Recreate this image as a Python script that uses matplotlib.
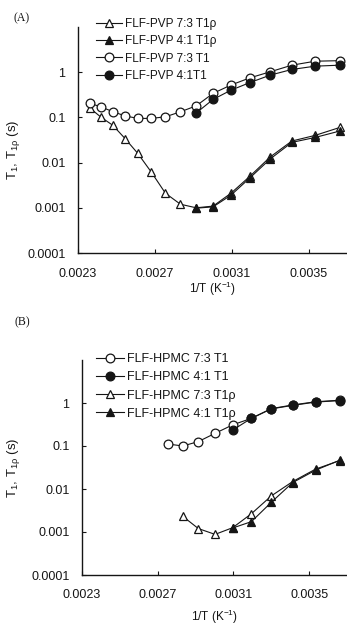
import matplotlib
matplotlib.use("Agg")
import matplotlib.pyplot as plt
import numpy as np

plt.rcParams['font.family'] = ['Liberation Sans', 'DejaVu Sans']
plt.rcParams['mathtext.default'] = 'regular'

# ---- Panel A: FLF-PVP ----
x_pvp = [0.002364, 0.002421, 0.002481, 0.002545, 0.002611, 0.002681, 0.002755, 0.002833,
         0.002915, 0.003003, 0.003096, 0.003195, 0.003300, 0.003413, 0.003534, 0.003663]
pvp73_t1 = [0.204, 0.17, 0.134, 0.108, 0.095, 0.095, 0.103, 0.133,
            0.18, 0.34, 0.52, 0.75, 1.02, 1.43, 1.75, 1.8]
pvp73_t1rho = [0.158, 0.10, 0.067, 0.034, 0.016, 0.0062, 0.0021, 0.0012,
               0.0010, 0.00109, 0.0021, 0.0050, 0.0133, 0.030, 0.040, 0.060]
x_pvp41 = x_pvp[8:]
pvp41_t1 = [0.125, 0.25, 0.40, 0.59, 0.86, 1.15, 1.36, 1.43]
pvp41_t1rho = [0.00098, 0.00105, 0.0019, 0.0046, 0.012, 0.028, 0.036, 0.050]

# ---- Panel B: FLF-HPMC ----
x_hpmc_t1_73 = [0.002755, 0.002833, 0.002915, 0.003003, 0.003096, 0.003195, 0.003300,
                0.003413, 0.003534, 0.003663]
hpmc73_t1 = [0.111, 0.10, 0.127, 0.197, 0.31, 0.44, 0.74, 0.90, 1.07, 1.16]
x_hpmc_41 = [0.003096, 0.003195, 0.003300, 0.003413, 0.003534, 0.003663]
hpmc41_t1 = [0.235, 0.44, 0.73, 0.88, 1.05, 1.14]
x_hpmc_rho_73 = [0.002833, 0.002915, 0.003003, 0.003096, 0.003195, 0.003300,
                 0.003413, 0.003534, 0.003663]
hpmc73_t1rho = [0.0023, 0.0012, 0.00088, 0.00126, 0.00266, 0.0069, 0.0149, 0.029, 0.046]
hpmc41_t1rho = [0.00124, 0.00174, 0.0049, 0.0141, 0.0274, 0.047]

xticks = [0.0023, 0.0027, 0.0031, 0.0035]
xticklabels = ['0.0023', '0.0027', '0.0031', '0.0035']
yticks = [0.0001, 0.001, 0.01, 0.1, 1]
yticklabels = ['0.0001', '0.001', '0.01', '0.1', '1']

W, H = 347, 626
fig = plt.figure(figsize=(W / 100, H / 100), dpi=100)

C = '#151515'
ms = 6.3
lw = 0.8
mew = 0.9


def px_axes(l, t, r, b):
    return fig.add_axes([l / W, 1 - b / H, (r - l) / W, (b - t) / H])


def style(ax, xpad, ylab_xy):
    ax.set_yscale('log')
    ax.set_xlim(0.0023, 0.0037)
    ax.set_ylim(0.0001, 10)
    ax.set_xticks(xticks)
    ax.set_xticklabels(xticklabels)
    ax.set_yticks(yticks)
    ax.set_yticklabels(yticklabels)
    ax.yaxis.set_minor_locator(matplotlib.ticker.NullLocator())
    for s in ['top', 'right']:
        ax.spines[s].set_visible(False)
    for s in ['left', 'bottom']:
        ax.spines[s].set_linewidth(1.0)
        ax.spines[s].set_color(C)
    ax.tick_params(axis='y', direction='in', length=3, width=0.8, pad=9, labelsize=9, colors=C)
    ax.tick_params(axis='x', direction='in', length=3, width=0.8, pad=xpad, labelsize=9, colors=C)
    ax.set_ylabel('T$_1$, T$_{1\\rho}$ (s)', fontsize=9.5, color=C)
    ax.yaxis.set_label_coords(*ylab_xy)
    ax.patch.set_alpha(0)


def series(ax, x, y, marker, filled, label, z):
    ax.plot(x, y, color=C, lw=lw, marker=marker, ms=ms, mew=mew,
            mfc=C if filled else 'white', mec=C, label=label, zorder=z, clip_on=False)


# Panel A
axA = px_axes(78, 27, 347, 253)
style(axA, 11, (-0.208, 0.456))
series(axA, x_pvp, pvp73_t1rho, '^', False, 'FLF-PVP 7:3 T1ρ', 3)
series(axA, x_pvp41, pvp41_t1rho, '^', True, 'FLF-PVP 4:1 T1ρ', 4)
series(axA, x_pvp, pvp73_t1, 'o', False, 'FLF-PVP 7:3 T1', 3)
series(axA, x_pvp41, pvp41_t1, 'o', True, 'FLF-PVP 4:1T1', 4)
axA.set_xlabel('1/T (K$^{-1}$)', fontsize=8.5, labelpad=0, color=C)
legA = axA.legend(loc='upper left', bbox_to_anchor=(96 / W, 1 - 18 / H), bbox_transform=fig.transFigure,
                  frameon=False, fontsize=8.5, handlelength=2.2, handletextpad=0.25,
                  labelspacing=0.45, borderpad=0, borderaxespad=0)
for t in legA.get_texts():
    t.set_color(C)
fig.text(22 / W, 1 - 18 / H, '(A)', ha='center', va='center', fontsize=8.5,
         family=['Liberation Serif', 'DejaVu Serif'], color=C)

# Panel B
axB = px_axes(82, 360, 347, 575)
style(axB, 10, (-0.226, 0.498))
series(axB, x_hpmc_t1_73, hpmc73_t1, 'o', False, 'FLF-HPMC 7:3 T1', 3)
series(axB, x_hpmc_41, hpmc41_t1, 'o', True, 'FLF-HPMC 4:1 T1', 4)
series(axB, x_hpmc_rho_73, hpmc73_t1rho, '^', False, 'FLF-HPMC 7:3 T1ρ', 3)
series(axB, x_hpmc_41, hpmc41_t1rho, '^', True, 'FLF-HPMC 4:1 T1ρ', 4)
axB.set_xlabel('1/T (K$^{-1}$)', fontsize=8.5, labelpad=5, color=C)
legB = axB.legend(loc='upper left', bbox_to_anchor=(96 / W, 1 - 353 / H), bbox_transform=fig.transFigure,
                  frameon=False, fontsize=9, handlelength=2.2, handletextpad=0.25,
                  labelspacing=0.5, borderpad=0, borderaxespad=0)
for t in legB.get_texts():
    t.set_color(C)
fig.text(22 / W, 1 - 322 / H, '(B)', ha='center', va='center', fontsize=8.5,
         family=['Liberation Serif', 'DejaVu Serif'], color=C)

fig.savefig('out.png', dpi=100)
